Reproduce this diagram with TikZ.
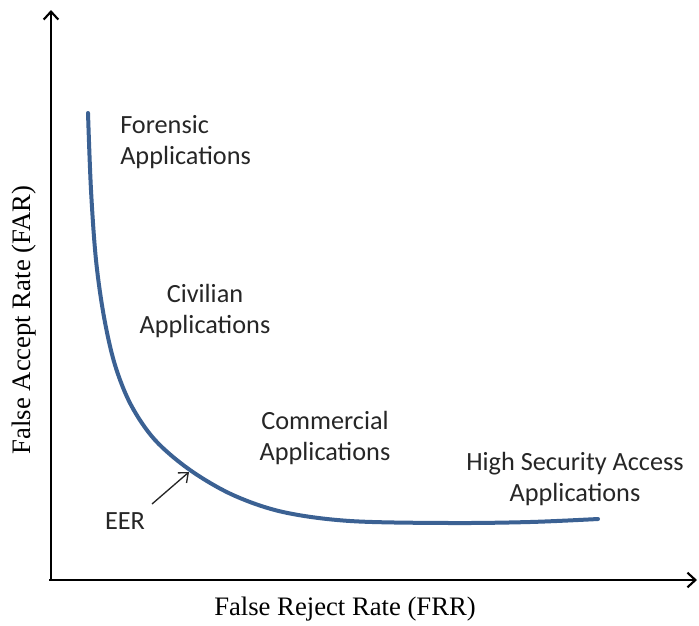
\documentclass[tikz,border=0pt]{standalone}
\usepackage{fontspec}
\setmainfont{Liberation Serif}
\newfontfamily\calib{Carlito}
\usetikzlibrary{arrows.meta}
\definecolor{curveblue}{HTML}{3B6193}
\begin{document}
\begin{tikzpicture}[x=0.75pt,y=-0.75pt,
  lbl/.style={font=\calib\fontsize{19.7}{23.3}\selectfont, align=center, text=black!85, inner sep=0pt},
  axlbl/.style={font=\fontsize{20}{24}\selectfont, inner sep=0pt},
  axisline/.style={line width=2.2pt, -{Straight Barb[length=6pt,width=11pt,line width=1.6pt]}}]
\useasboundingbox (0,0) rectangle (699,625);
\coordinate (o) at (51,580);
\coordinate (ytop) at (51,10);
\coordinate (xend) at (697,580);
\draw[axisline] (o) -- (ytop);
\draw[axisline] ([xshift=-1.5pt]o) -- (xend);
\draw[curveblue, line width=3pt, line cap=round]
  plot[smooth, tension=0.55] coordinates {(88,113) (91,190) (96,260) (104,317) (115,365) (131,405) (155,440) (190,470) (233,495) (283,512) (350,521) (450,523) (530,522) (598,519)};
\node[lbl, align=left, anchor=west] (forensic) at (120,142) {Forensic\\Applications};
\node[lbl] (civilian) at (205,311) {Civilian\\Applications};
\node[lbl] (commercial) at (325,438) {Commercial\\Applications};
\node[lbl] (highsec) at (575,479) {High Security Access\\Applications};
\node[lbl] (eer) at (125,521) {EER};
\coordinate (eertail) at (152,504);
\coordinate (eertip) at (189,472);
\draw[-{Straight Barb[length=6pt,width=10pt,line width=1pt]}, line width=1pt, black!85] (eertail) -- (eertip);
\node[axlbl] (xlab) at (345,609) {False Reject Rate (FRR)};
\node[axlbl, rotate=90] (ylab) at (24,320) {False Accept Rate (FAR)};
\end{tikzpicture}
\end{document}
